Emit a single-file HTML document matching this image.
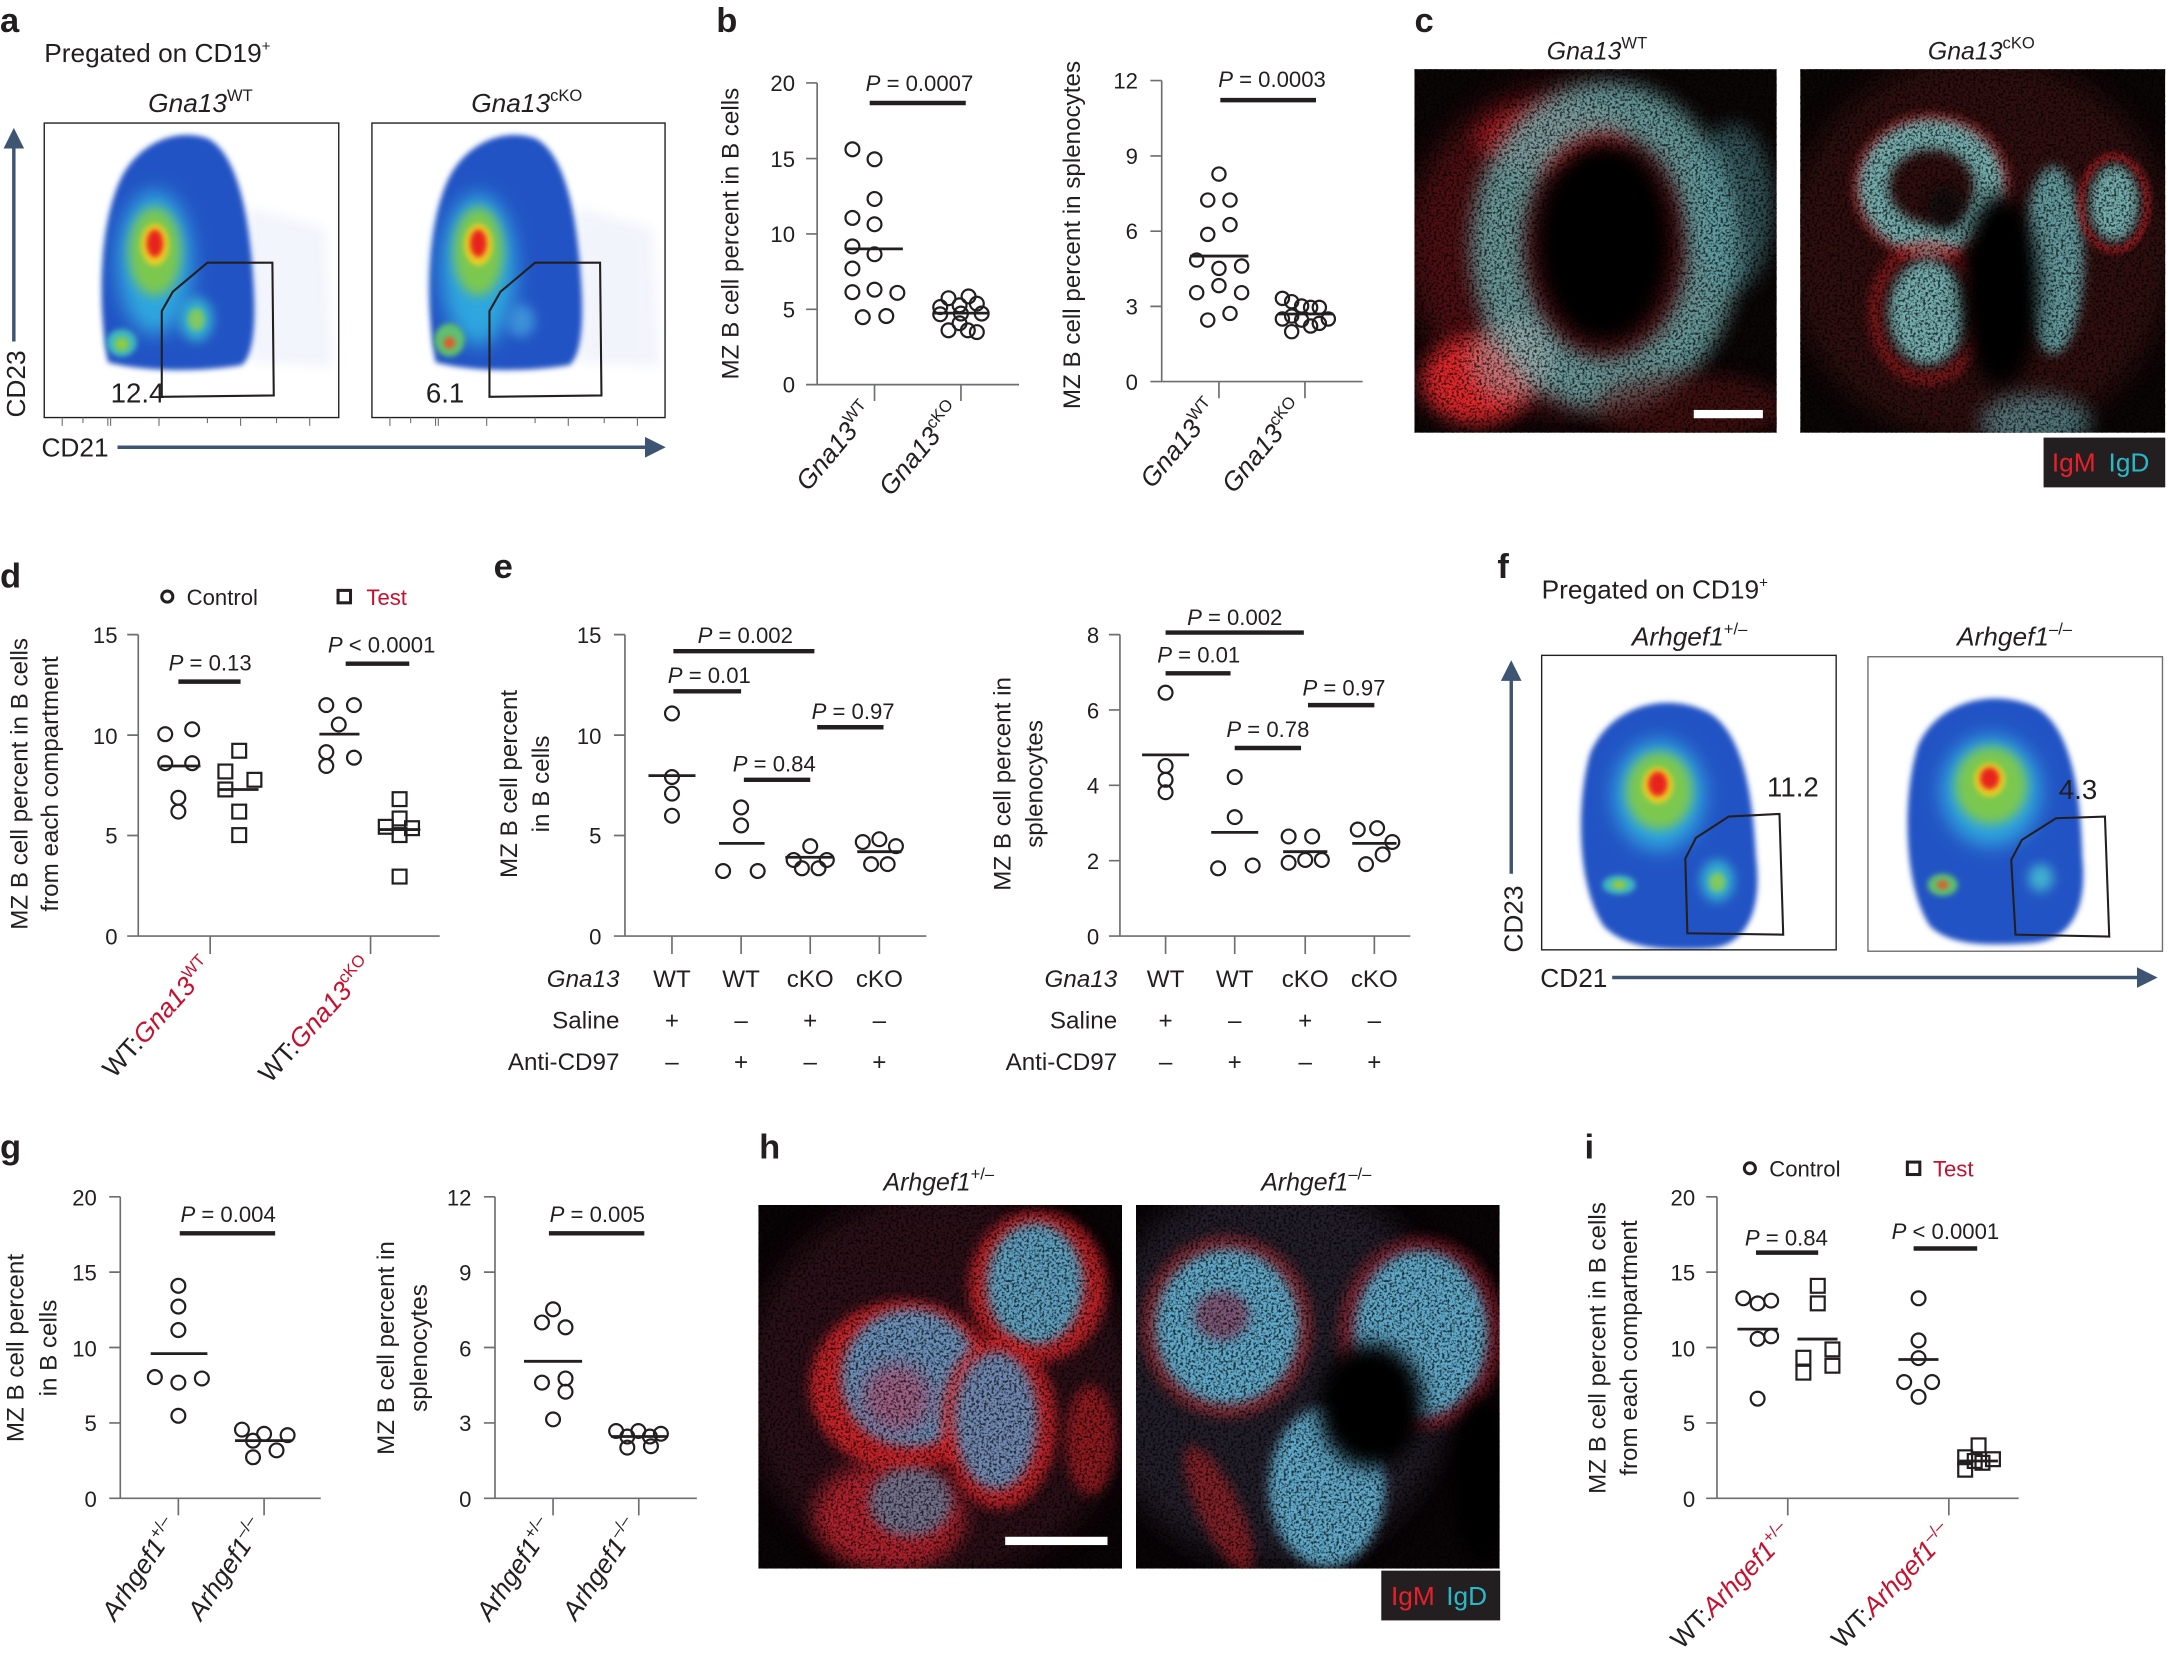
<!DOCTYPE html>
<html><head><meta charset="utf-8"><style>
html,body{margin:0;padding:0;background:#fff;}
svg{display:block;}
text{font-family:"Liberation Sans",Arial,sans-serif;fill:#231f20;}
.t{font-size:16px;}
.ax{font-size:17.5px;}
.lbl{font-size:25px;font-weight:bold;}
.it{font-style:italic;}
.red{fill:#c8102e;}
</style></head><body>
<svg width="2168" height="1663" viewBox="0 0 1568 1202.8" preserveAspectRatio="none" xmlns="http://www.w3.org/2000/svg">
<defs>
<filter id="b2" x="-50%" y="-50%" width="200%" height="200%"><feGaussianBlur stdDeviation="2"/></filter>
<filter id="b4" x="-50%" y="-50%" width="200%" height="200%"><feGaussianBlur stdDeviation="4"/></filter>
<filter id="b7" x="-50%" y="-50%" width="200%" height="200%"><feGaussianBlur stdDeviation="7"/></filter>
<filter id="b10" x="-50%" y="-50%" width="200%" height="200%"><feGaussianBlur stdDeviation="10"/></filter>
<filter id="tex" x="0" y="0" width="100%" height="100%"><feTurbulence type="fractalNoise" baseFrequency="0.55" numOctaves="2" seed="4"/><feColorMatrix type="matrix" values="0 0 0 0 0 0 0 0 0 0 0 0 0 0 0 0 0 0 -4 2.2"/></filter>
<marker id="ah" markerWidth="6" markerHeight="6" refX="3" refY="3" orient="auto" markerUnits="strokeWidth"><path d="M0,0 L6,3 L0,6 Z" fill="#3d5572"/></marker>
</defs>
<style>
.pt{fill:none;stroke:#231f20;stroke-width:1.6;}
.sq{fill:none;stroke:#231f20;stroke-width:1.6;}
.axl{stroke:#6d6e71;stroke-width:1.2;fill:none;}
.mn{stroke:#231f20;stroke-width:2;}
.br{stroke:#231f20;stroke-width:3.2;}
.gate{fill:none;stroke:#231f20;stroke-width:1.5;}
</style>

<!-- ===== Panel a ===== -->
<text class="lbl" x="0" y="23">a</text>
<text x="32" y="45" style="font-size:19px">Pregated on CD19<tspan dy="-8" style="font-size:11px">+</tspan></text>
<text class="it" x="145" y="81" text-anchor="middle" style="font-size:19px">Gna13<tspan dy="-8" style="font-size:12px;font-style:normal">WT</tspan></text>
<text class="it" x="381" y="81" text-anchor="middle" style="font-size:19px">Gna13<tspan dy="-8" style="font-size:12px;font-style:normal">cKO</tspan></text>
<svg x="32" y="89" width="213" height="213" viewBox="32 89 213 213">
<rect x="32" y="89" width="213" height="213" fill="#fff"/>
<path d="M180,150 L235,165 L240,265 L182,262Z" fill="#4a6ed0" opacity="0.07" filter="url(#b4)"/>
<path d="M78,262 C70,220 72,160 88,128 C100,105 125,92 150,100 C170,110 180,150 183,200 C186,240 182,258 175,264 C140,270 100,268 78,262Z" fill="#2352c4" filter="url(#b2)"/>
<ellipse cx="112" cy="190" rx="27" ry="52" fill="#2fa6de" filter="url(#b7)"/>
<ellipse cx="112" cy="182" rx="19" ry="32" fill="#7cc850" filter="url(#b4)"/>
<ellipse cx="112" cy="177" rx="10" ry="15" fill="#f0d020" filter="url(#b2)"/>
<ellipse cx="112" cy="176" rx="6" ry="10" fill="#e8231f" filter="url(#b2)"/>
<ellipse cx="142" cy="231" rx="12" ry="16" fill="#35b0d0" filter="url(#b4)"/>
<ellipse cx="142" cy="231" rx="6" ry="8" fill="#80c860" filter="url(#b2)"/>
<ellipse cx="88" cy="248" rx="11" ry="10" fill="#40b8c0" filter="url(#b2)"/>
<ellipse cx="88" cy="249" rx="5" ry="5" fill="#90cc40" filter="url(#b2)"/>
</svg>
<rect x="32" y="89" width="213" height="213" fill="none" stroke="#231f20" stroke-width="1"/>
<polygon class="gate" points="117,287 117,225 125,211 150,190 197,190 198,286"/>
<text x="80" y="291" style="font-size:20px">12.4</text>
<svg x="269" y="89" width="213" height="213" viewBox="32 89 213 213">
<rect x="32" y="89" width="213" height="213" fill="#fff"/>
<path d="M180,150 L235,165 L240,265 L182,262Z" fill="#4a6ed0" opacity="0.07" filter="url(#b4)"/>
<path d="M78,262 C70,220 72,160 88,128 C100,105 125,92 150,100 C170,110 180,150 183,200 C186,240 182,258 175,264 C140,270 100,268 78,262Z" fill="#2352c4" filter="url(#b2)"/>
<ellipse cx="109" cy="195" rx="27" ry="55" fill="#2fa6de" filter="url(#b7)"/>
<ellipse cx="109" cy="182" rx="18" ry="32" fill="#7cc850" filter="url(#b4)"/>
<ellipse cx="109" cy="177" rx="10" ry="15" fill="#f0d020" filter="url(#b2)"/>
<ellipse cx="109" cy="176" rx="6" ry="10" fill="#e8231f" filter="url(#b2)"/>
<ellipse cx="140" cy="232" rx="10" ry="12" fill="#3a90d8" filter="url(#b4)"/>
<ellipse cx="88" cy="246" rx="11" ry="12" fill="#60c070" filter="url(#b2)"/>
<ellipse cx="88" cy="248" rx="4" ry="4" fill="#f05020" filter="url(#b2)"/>
</svg>
<rect x="269" y="89" width="212" height="213" fill="none" stroke="#231f20" stroke-width="1"/>
<polygon class="gate" points="354,287 354,225 362,211 387,190 434,190 435,286"/>
<text x="308" y="291" style="font-size:20px">6.1</text>
<line x1="10" y1="247" x2="10" y2="100" stroke="#3d5572" stroke-width="2.5" marker-end="url(#ah)"/>
<text x="0" y="0" transform="translate(18,302) rotate(-90)" style="font-size:19px">CD23</text>
<text x="30" y="330" style="font-size:19px">CD21</text>
<line x1="85" y1="323.5" x2="474" y2="323.5" stroke="#3d5572" stroke-width="2.5" marker-end="url(#ah)"/>
<g stroke="#6d6e71" stroke-width="0.8">
<line x1="45" y1="302" x2="45" y2="308"/><line x1="60" y1="302" x2="60" y2="306"/><line x1="78" y1="302" x2="78" y2="308"/><line x1="80" y1="302" x2="80" y2="308"/><line x1="115" y1="302" x2="115" y2="308"/><line x1="150" y1="302" x2="150" y2="306"/><line x1="174" y1="302" x2="174" y2="308"/><line x1="200" y1="302" x2="200" y2="306"/><line x1="224" y1="302" x2="224" y2="308"/>
<line x1="282" y1="302" x2="282" y2="308"/><line x1="297" y1="302" x2="297" y2="306"/><line x1="315" y1="302" x2="315" y2="308"/><line x1="317" y1="302" x2="317" y2="308"/><line x1="352" y1="302" x2="352" y2="308"/><line x1="387" y1="302" x2="387" y2="306"/><line x1="411" y1="302" x2="411" y2="308"/><line x1="437" y1="302" x2="437" y2="306"/><line x1="461" y1="302" x2="461" y2="308"/>
</g>

<!-- ===== Panel b ===== -->
<text class="lbl" x="518" y="23">b</text>
<path class="axl" d="M591,60 V278.2 H737 M583,60 H591 M583,114.7 H591 M583,169.2 H591 M583,223.7 H591 M583,278.2 H591 M632.5,278 V290 M695,278 V290"/>
<g class="t" text-anchor="end"><text x="575" y="66">20</text><text x="575" y="120.7">15</text><text x="575" y="175">10</text><text x="575" y="229.5">5</text><text x="575" y="284">0</text></g>
<text class="ax" transform="translate(534,169) rotate(-90)" text-anchor="middle">MZ B cell percent in B cells</text>
<text class="t" x="665" y="66" text-anchor="middle"><tspan class="it">P</tspan> = 0.0007</text>
<line class="br" x1="629" y1="74.5" x2="698.5" y2="74.5"/>
<g class="pt">
<circle cx="616.5" cy="108" r="5"/><circle cx="632.5" cy="115.2" r="5"/><circle cx="632.5" cy="143.9" r="5"/><circle cx="616.5" cy="157.6" r="5"/><circle cx="632.5" cy="162.2" r="5"/><circle cx="616.5" cy="178.2" r="5"/><circle cx="632.5" cy="183.9" r="5"/><circle cx="616.5" cy="194.2" r="5"/><circle cx="616.5" cy="211.3" r="5"/><circle cx="632.5" cy="209.5" r="5"/><circle cx="649" cy="211.8" r="5"/><circle cx="624" cy="229.4" r="5"/><circle cx="641" cy="228.6" r="5"/>
<circle cx="686" cy="215.7" r="5"/><circle cx="700.5" cy="214.4" r="5"/><circle cx="680" cy="222.1" r="5"/><circle cx="694" cy="220.8" r="5"/><circle cx="706.5" cy="219.6" r="5"/><circle cx="710" cy="226.8" r="5"/><circle cx="680" cy="227.3" r="5"/><circle cx="695" cy="226.8" r="5"/><circle cx="686" cy="238.9" r="5"/><circle cx="700" cy="238.9" r="5"/><circle cx="706.5" cy="240.2" r="5"/><circle cx="694" cy="233.8" r="5"/>
</g>
<line class="mn" x1="611" y1="180" x2="653" y2="180"/><line class="mn" x1="675" y1="226.5" x2="715" y2="226.5"/>
<text class="it" transform="translate(633,298) rotate(-50)" text-anchor="end" style="font-size:19px">Gna13<tspan dy="-8" style="font-size:12px;font-style:normal">WT</tspan></text>
<text class="it" transform="translate(696,298) rotate(-50)" text-anchor="end" style="font-size:19px">Gna13<tspan dy="-8" style="font-size:12px;font-style:normal">cKO</tspan></text>

<path class="axl" d="M840.2,58.3 V276 H985.5 M832,58.3 H840.2 M832,112.8 H840.2 M832,167.2 H840.2 M832,221.6 H840.2 M832,276 H840.2 M881.6,276 V288 M943.8,276 V288"/>
<g class="t" text-anchor="end"><text x="823" y="64">12</text><text x="823" y="118.5">9</text><text x="823" y="173">6</text><text x="823" y="227.5">3</text><text x="823" y="282">0</text></g>
<text class="ax" transform="translate(781,170) rotate(-90)" text-anchor="middle">MZ B cell percent in splenocytes</text>
<text class="t" x="920" y="63" text-anchor="middle"><tspan class="it">P</tspan> = 0.0003</text>
<line class="br" x1="882.6" y1="72.4" x2="951.8" y2="72.4"/>
<g class="pt">
<circle cx="881.6" cy="125.9" r="4.8"/><circle cx="873.5" cy="144.7" r="4.8"/><circle cx="889.6" cy="144.7" r="4.8"/><circle cx="889.6" cy="162.5" r="4.8"/><circle cx="873.5" cy="169.5" r="4.8"/><circle cx="865.5" cy="188.1" r="4.8"/><circle cx="881.6" cy="194.1" r="4.8"/><circle cx="898" cy="192.4" r="4.8"/><circle cx="881.6" cy="206.6" r="4.8"/><circle cx="865.5" cy="211.7" r="4.8"/><circle cx="898" cy="211.7" r="4.8"/><circle cx="889.6" cy="226.7" r="4.8"/><circle cx="873.5" cy="231.5" r="4.8"/>
<circle cx="927.5" cy="215.8" r="4.8"/><circle cx="934.2" cy="218.2" r="4.8"/><circle cx="941.4" cy="221.3" r="4.8"/><circle cx="947.9" cy="222.3" r="4.8"/><circle cx="954.2" cy="222.3" r="4.8"/><circle cx="927.5" cy="230.7" r="4.8"/><circle cx="934.2" cy="228.6" r="4.8"/><circle cx="941.4" cy="231.5" r="4.8"/><circle cx="947.9" cy="235.8" r="4.8"/><circle cx="954.2" cy="233.9" r="4.8"/><circle cx="960.7" cy="230.7" r="4.8"/><circle cx="934.2" cy="239.9" r="4.8"/>
</g>
<line class="mn" x1="860.7" y1="185.2" x2="902.9" y2="185.2"/><line class="mn" x1="924.6" y1="227.1" x2="964.4" y2="227.1"/>
<text class="it" transform="translate(882,296) rotate(-50)" text-anchor="end" style="font-size:19px">Gna13<tspan dy="-8" style="font-size:12px;font-style:normal">WT</tspan></text>
<text class="it" transform="translate(944,296) rotate(-50)" text-anchor="end" style="font-size:19px">Gna13<tspan dy="-8" style="font-size:12px;font-style:normal">cKO</tspan></text>

<!-- ===== Panel c ===== -->
<text class="lbl" x="1023" y="23">c</text>
<text class="it" x="1155" y="43" text-anchor="middle" style="font-size:18px">Gna13<tspan dy="-8" style="font-size:12px;font-style:normal">WT</tspan></text>
<text class="it" x="1433" y="43" text-anchor="middle" style="font-size:18px">Gna13<tspan dy="-8" style="font-size:12px;font-style:normal">cKO</tspan></text>
<svg x="1023" y="50" width="262" height="263" viewBox="0 0 262 263">
<rect width="262" height="263" fill="#0c0606"/>
<ellipse cx="110" cy="130" rx="115" ry="120" fill="#7a181c" opacity="0.6" filter="url(#b10)"/>
<ellipse cx="45" cy="225" rx="40" ry="32" fill="#e0262a" filter="url(#b7)"/>
<ellipse cx="100" cy="50" rx="55" ry="25" fill="#d02228" opacity="0.7" filter="url(#b7)"/>
<ellipse cx="138" cy="128" rx="78" ry="100" fill="none" stroke="#6fb8b8" stroke-width="38" opacity="0.8" filter="url(#b7)"/>
<ellipse cx="70" cy="210" rx="30" ry="30" fill="#b0b8b8" opacity="0.5" filter="url(#b7)"/>
<ellipse cx="230" cy="100" rx="30" ry="60" fill="#5aa0a8" opacity="0.5" filter="url(#b7)"/>
<ellipse cx="137" cy="125" rx="48" ry="72" fill="#050303" filter="url(#b7)"/>
<ellipse cx="200" cy="245" rx="70" ry="25" fill="#601418" opacity="0.6" filter="url(#b7)"/>
<rect width="262" height="263" filter="url(#tex)" opacity="0.7"/>
<rect x="202" y="246.5" width="50" height="6" fill="#fff"/>
</svg>
<svg x="1302" y="50" width="264" height="263" viewBox="0 0 264 263">
<rect width="264" height="263" fill="#0c0606"/>
<ellipse cx="130" cy="130" rx="140" ry="140" fill="#4a1416" opacity="0.6" filter="url(#b10)"/>
<ellipse cx="95" cy="85" rx="52" ry="48" fill="none" stroke="#d02228" stroke-width="10" opacity="0.6" filter="url(#b4)"/>
<ellipse cx="95" cy="85" rx="42" ry="38" fill="none" stroke="#80c8c8" stroke-width="22" opacity="0.85" filter="url(#b4)"/>
<ellipse cx="92" cy="176" rx="38" ry="48" fill="none" stroke="#d02228" stroke-width="8" opacity="0.6" filter="url(#b4)"/>
<ellipse cx="92" cy="176" rx="28" ry="38" fill="#80c8c8" opacity="0.85" filter="url(#b4)"/>
<ellipse cx="183" cy="138" rx="22" ry="68" fill="#70bcc0" opacity="0.8" filter="url(#b4)"/>
<ellipse cx="227" cy="97" rx="18" ry="28" fill="#80c8c8" opacity="0.85" filter="url(#b4)"/>
<ellipse cx="227" cy="97" rx="24" ry="34" fill="none" stroke="#d02228" stroke-width="5" opacity="0.6" filter="url(#b2)"/>
<ellipse cx="145" cy="160" rx="28" ry="70" fill="#050303" filter="url(#b7)"/>
<ellipse cx="105" cy="100" rx="14" ry="16" fill="#150808" filter="url(#b4)"/>
<ellipse cx="170" cy="255" rx="40" ry="20" fill="#70b8c0" opacity="0.6" filter="url(#b7)"/>
<rect width="264" height="263" filter="url(#tex)" opacity="0.7"/>
</svg>
<rect x="1478" y="316.5" width="88" height="36" fill="#231f20"/>
<text x="1484" y="341" style="font-size:19px;fill:#e8202a">IgM</text><text x="1525" y="341" style="font-size:19px;fill:#2ab8c8">IgD</text>

<!-- ===== Panel d ===== -->
<text class="lbl" x="0" y="425">d</text>
<circle cx="121" cy="431.5" r="4" fill="none" stroke="#231f20" stroke-width="2.2"/>
<text class="t" x="135" y="437.5">Control</text>
<rect x="244.5" y="427" width="9" height="9" fill="none" stroke="#231f20" stroke-width="2.2"/>
<text class="t red" x="265" y="437.5">Test</text>
<path class="axl" d="M100,459 V677 H318 M92,459 H100 M92,531.7 H100 M92,604.3 H100 M92,677 H100 M152,677 V690 M268,677 V690"/>
<g class="t" text-anchor="end"><text x="85" y="465">15</text><text x="85" y="538">10</text><text x="85" y="610">5</text><text x="85" y="683">0</text></g>
<text class="ax" transform="translate(20,567) rotate(-90)" text-anchor="middle">MZ B cell percent in B cells</text>
<text class="ax" transform="translate(42,567) rotate(-90)" text-anchor="middle">from each compartment</text>
<text class="t" x="152" y="485" text-anchor="middle"><tspan class="it">P</tspan> = 0.13</text>
<line class="br" x1="129" y1="493" x2="174" y2="493"/>
<text class="t" x="276" y="472" text-anchor="middle"><tspan class="it">P</tspan> &lt; 0.0001</text>
<line class="br" x1="250" y1="480" x2="296" y2="480"/>
<g class="pt">
<circle cx="119.5" cy="531" r="5"/><circle cx="139" cy="527.5" r="5"/><circle cx="119.5" cy="552" r="5"/><circle cx="139" cy="552" r="5"/><circle cx="129" cy="577" r="5"/><circle cx="129" cy="587" r="5"/>
<circle cx="236" cy="510" r="5"/><circle cx="256" cy="510" r="5"/><circle cx="245" cy="524" r="5"/><circle cx="236" cy="544" r="5"/><circle cx="256" cy="548" r="5"/><circle cx="236" cy="554" r="5"/>
</g>
<g class="sq">
<rect x="168" y="538" width="10" height="10"/><rect x="158" y="553" width="10" height="10"/><rect x="179" y="559" width="10" height="10"/><rect x="158" y="566" width="10" height="10"/><rect x="168" y="582" width="10" height="10"/><rect x="168" y="599" width="10" height="10"/>
<rect x="284" y="573" width="10" height="10"/><rect x="284" y="587" width="10" height="10"/><rect x="274" y="593" width="10" height="10"/><rect x="293" y="594" width="10" height="10"/><rect x="284" y="599" width="10" height="10"/><rect x="284" y="629" width="10" height="10"/>
</g>
<line class="mn" x1="116" y1="554" x2="145" y2="554"/><line class="mn" x1="158" y1="571" x2="187" y2="571"/>
<line class="mn" x1="231" y1="531" x2="260" y2="531"/><line class="mn" x1="274" y1="600" x2="304" y2="600"/>
<text transform="translate(155,700) rotate(-48)" text-anchor="end" style="font-size:19px">WT:<tspan class="it red">Gna13</tspan><tspan class="red" dy="-8" style="font-size:12px">WT</tspan></text>
<text transform="translate(271,700) rotate(-48)" text-anchor="end" style="font-size:19px">WT:<tspan class="it red">Gna13</tspan><tspan class="red" dy="-8" style="font-size:12px">cKO</tspan></text>

<!-- ===== Panel e ===== -->
<text class="lbl" x="357" y="418">e</text>
<path class="axl" d="M452,459 V677 H670 M444,459 H452 M444,531.7 H452 M444,604.3 H452 M444,677 H452 M486,677 V690 M536,677 V690 M586,677 V690 M636,677 V690"/>
<g class="t" text-anchor="end"><text x="435" y="465">15</text><text x="435" y="538">10</text><text x="435" y="610">5</text><text x="435" y="683">0</text></g>
<text class="ax" transform="translate(374,567) rotate(-90)" text-anchor="middle">MZ B cell percent</text>
<text class="ax" transform="translate(397,567) rotate(-90)" text-anchor="middle">in B cells</text>
<text class="t" x="539" y="465" text-anchor="middle"><tspan class="it">P</tspan> = 0.002</text><line class="br" x1="487" y1="471" x2="589" y2="471"/>
<text class="t" x="513" y="494" text-anchor="middle"><tspan class="it">P</tspan> = 0.01</text><line class="br" x1="487" y1="500" x2="536" y2="500"/>
<text class="t" x="560" y="558" text-anchor="middle"><tspan class="it">P</tspan> = 0.84</text><line class="br" x1="538" y1="564" x2="586" y2="564"/>
<text class="t" x="617" y="520" text-anchor="middle"><tspan class="it">P</tspan> = 0.97</text><line class="br" x1="591" y1="526" x2="639" y2="526"/>
<g class="pt">
<circle cx="486" cy="516" r="5"/><circle cx="486" cy="562" r="5"/><circle cx="486" cy="574" r="5"/><circle cx="486" cy="590" r="5"/>
<circle cx="536" cy="584" r="5"/><circle cx="536" cy="597" r="5"/><circle cx="523" cy="630" r="5"/><circle cx="548" cy="630" r="5"/>
<circle cx="586" cy="612" r="5"/><circle cx="574" cy="622" r="5"/><circle cx="598" cy="622" r="5"/><circle cx="580" cy="628" r="5"/><circle cx="592" cy="628" r="5"/>
<circle cx="624" cy="609" r="5"/><circle cx="636" cy="607" r="5"/><circle cx="648" cy="612" r="5"/><circle cx="630" cy="625" r="5"/><circle cx="642" cy="625" r="5"/>
</g>
<line class="mn" x1="469" y1="561" x2="503" y2="561"/><line class="mn" x1="520" y1="610" x2="553" y2="610"/><line class="mn" x1="568" y1="620" x2="602" y2="620"/><line class="mn" x1="620" y1="616" x2="652" y2="616"/>
<g class="ax" text-anchor="end"><text class="it" x="448" y="714">Gna13</text><text x="448" y="744">Saline</text><text x="448" y="774">Anti-CD97</text></g>
<g class="ax" text-anchor="middle">
<text x="486" y="714">WT</text><text x="536" y="714">WT</text><text x="586" y="714">cKO</text><text x="636" y="714">cKO</text>
<text x="486" y="744">+</text><text x="536" y="744">–</text><text x="586" y="744">+</text><text x="636" y="744">–</text>
<text x="486" y="774">–</text><text x="536" y="774">+</text><text x="586" y="774">–</text><text x="636" y="774">+</text>
</g>
<path class="axl" d="M810,459 V677 H1020 M802,459 H810 M802,513.5 H810 M802,568 H810 M802,622.5 H810 M802,677 H810 M843,677 V690 M893,677 V690 M944,677 V690 M994,677 V690"/>
<g class="t" text-anchor="end"><text x="795" y="465">8</text><text x="795" y="519.5">6</text><text x="795" y="574">4</text><text x="795" y="628.5">2</text><text x="795" y="683">0</text></g>
<text class="ax" transform="translate(731,567) rotate(-90)" text-anchor="middle">MZ B cell percent in</text>
<text class="ax" transform="translate(754,567) rotate(-90)" text-anchor="middle">splenocytes</text>
<text class="t" x="893" y="452" text-anchor="middle"><tspan class="it">P</tspan> = 0.002</text><line class="br" x1="843" y1="457.5" x2="943" y2="457.5"/>
<text class="t" x="867" y="479" text-anchor="middle"><tspan class="it">P</tspan> = 0.01</text><line class="br" x1="843" y1="487" x2="890" y2="487"/>
<text class="t" x="917" y="533" text-anchor="middle"><tspan class="it">P</tspan> = 0.78</text><line class="br" x1="893" y1="541" x2="941" y2="541"/>
<text class="t" x="972" y="503" text-anchor="middle"><tspan class="it">P</tspan> = 0.97</text><line class="br" x1="946" y1="510" x2="994" y2="510"/>
<g class="pt">
<circle cx="843" cy="501" r="5"/><circle cx="843" cy="554" r="5"/><circle cx="843" cy="564" r="5"/><circle cx="843" cy="573" r="5"/>
<circle cx="893" cy="562" r="5"/><circle cx="893" cy="591" r="5"/><circle cx="881" cy="628" r="5"/><circle cx="906" cy="626" r="5"/>
<circle cx="932" cy="605" r="5"/><circle cx="949" cy="605" r="5"/><circle cx="932" cy="624" r="5"/><circle cx="944" cy="622" r="5"/><circle cx="956" cy="622" r="5"/>
<circle cx="982" cy="600" r="5"/><circle cx="996" cy="599" r="5"/><circle cx="1007" cy="609" r="5"/><circle cx="1000" cy="618" r="5"/><circle cx="988" cy="625" r="5"/>
</g>
<line class="mn" x1="826" y1="546" x2="860" y2="546"/><line class="mn" x1="876" y1="602" x2="910" y2="602"/><line class="mn" x1="928" y1="616" x2="960" y2="616"/><line class="mn" x1="978" y1="610" x2="1010" y2="610"/>
<g class="ax" text-anchor="end"><text class="it" x="808" y="714">Gna13</text><text x="808" y="744">Saline</text><text x="808" y="774">Anti-CD97</text></g>
<g class="ax" text-anchor="middle">
<text x="843" y="714">WT</text><text x="893" y="714">WT</text><text x="944" y="714">cKO</text><text x="994" y="714">cKO</text>
<text x="843" y="744">+</text><text x="893" y="744">–</text><text x="944" y="744">+</text><text x="994" y="744">–</text>
<text x="843" y="774">–</text><text x="893" y="774">+</text><text x="944" y="774">–</text><text x="994" y="774">+</text>
</g>

<!-- ===== Panel f ===== -->
<text class="lbl" x="1083" y="418">f</text>
<text x="1115" y="433" style="font-size:19px">Pregated on CD19<tspan dy="-8" style="font-size:11px">+</tspan></text>
<text class="it" x="1222" y="467" text-anchor="middle" style="font-size:19px">Arhgef1<tspan dy="-8" style="font-size:12px;font-style:normal">+/–</tspan></text>
<text class="it" x="1457" y="467" text-anchor="middle" style="font-size:19px">Arhgef1<tspan dy="-8" style="font-size:12px;font-style:normal">–/–</tspan></text>
<svg x="1115" y="474" width="213" height="213" viewBox="1115 474 213 213">
<rect x="1115" y="474" width="213" height="213" fill="#fff"/>
<path d="M1160,670 C1140,640 1140,580 1150,545 C1165,510 1205,500 1235,515 C1262,530 1268,580 1270,620 C1275,660 1262,685 1235,686 C1200,688 1175,685 1160,670Z" fill="#2352c4" filter="url(#b2)"/>
<ellipse cx="1200" cy="575" rx="33" ry="40" fill="#2fa6de" filter="url(#b7)"/>
<ellipse cx="1200" cy="572" rx="24" ry="28" fill="#7cc850" filter="url(#b4)"/>
<ellipse cx="1199" cy="568" rx="11" ry="13" fill="#f0d020" filter="url(#b2)"/>
<ellipse cx="1199" cy="567" rx="7" ry="9" fill="#e8231f" filter="url(#b2)"/>
<ellipse cx="1171" cy="640" rx="12" ry="7" fill="#40b8c0" filter="url(#b2)"/>
<ellipse cx="1171" cy="640" rx="5" ry="3" fill="#a0cc30" filter="url(#b2)"/>
<ellipse cx="1242" cy="637" rx="12" ry="15" fill="#35b0d0" filter="url(#b4)"/>
<ellipse cx="1242" cy="638" rx="6" ry="7" fill="#80c860" filter="url(#b2)"/>
</svg>
<rect x="1115" y="474" width="213" height="213" fill="none" stroke="#231f20" stroke-width="1"/>
<polygon class="gate" points="1220.4,675 1218.9,621 1226.6,606 1250.3,590.6 1287,588.7 1289.7,676"/>
<text x="1278" y="576" style="font-size:20px">11.2</text>
<svg x="1351" y="475" width="213" height="213" viewBox="1351 475 213 213">
<rect x="1351" y="475" width="213" height="213" fill="#fff"/>
<path d="M1396,670 C1376,640 1376,575 1387,540 C1402,505 1445,498 1473,512 C1500,528 1505,580 1506,620 C1510,660 1496,680 1470,682 C1436,684 1411,684 1396,670Z" fill="#2352c4" filter="url(#b2)"/>
<ellipse cx="1440" cy="572" rx="36" ry="40" fill="#2fa6de" filter="url(#b7)"/>
<ellipse cx="1440" cy="568" rx="26" ry="28" fill="#7cc850" filter="url(#b4)"/>
<ellipse cx="1439" cy="564" rx="11" ry="12" fill="#f0d020" filter="url(#b2)"/>
<ellipse cx="1439" cy="563" rx="7" ry="8" fill="#e8231f" filter="url(#b2)"/>
<ellipse cx="1405" cy="640" rx="11" ry="8" fill="#60c070" filter="url(#b2)"/>
<ellipse cx="1405" cy="640" rx="4" ry="3" fill="#f05020" filter="url(#b2)"/>
<ellipse cx="1476" cy="635" rx="9" ry="10" fill="#40b0d0" filter="url(#b4)"/>
</svg>
<rect x="1351" y="475" width="213" height="213" fill="none" stroke="#6d6e71" stroke-width="1"/>
<polygon class="gate" points="1457.7,676 1454.6,622 1462.3,607.5 1487,591.8 1522.4,590.6 1525.5,677.4"/>
<text x="1489" y="578" style="font-size:20px">4.3</text>
<line x1="1093" y1="632" x2="1093" y2="485" stroke="#3d5572" stroke-width="2.5" marker-end="url(#ah)"/>
<text transform="translate(1101,689) rotate(-90)" style="font-size:19px">CD23</text>
<text x="1114" y="714" style="font-size:19px">CD21</text>
<line x1="1166" y1="707" x2="1553" y2="707" stroke="#3d5572" stroke-width="2.5" marker-end="url(#ah)"/>

<!-- ===== Panel g ===== -->
<text class="lbl" x="0" y="838">g</text>
<path class="axl" d="M87,865.6 V1083.7 H232 M79,865.6 H87 M79,920.1 H87 M79,974.6 H87 M79,1029.2 H87 M79,1083.7 H87 M129,1083.7 V1096 M191,1083.7 V1096"/>
<g class="t" text-anchor="end"><text x="70" y="872">20</text><text x="70" y="926">15</text><text x="70" y="981">10</text><text x="70" y="1035">5</text><text x="70" y="1090">0</text></g>
<text class="ax" transform="translate(17,975) rotate(-90)" text-anchor="middle">MZ B cell percent</text>
<text class="ax" transform="translate(41,975) rotate(-90)" text-anchor="middle">in B cells</text>
<text class="t" x="165" y="884" text-anchor="middle"><tspan class="it">P</tspan> = 0.004</text><line class="br" x1="130" y1="892" x2="199" y2="892"/>
<g class="pt">
<circle cx="129" cy="930" r="5"/><circle cx="129" cy="945" r="5"/><circle cx="129" cy="962" r="5"/><circle cx="112" cy="996" r="5"/><circle cx="129" cy="1000" r="5"/><circle cx="146" cy="997" r="5"/><circle cx="129" cy="1024" r="5"/>
<circle cx="175" cy="1034" r="5"/><circle cx="191" cy="1037" r="5"/><circle cx="208" cy="1038" r="5"/><circle cx="183" cy="1042" r="5"/><circle cx="200" cy="1049" r="5"/><circle cx="183" cy="1054" r="5"/>
</g>
<line class="mn" x1="109" y1="979" x2="150" y2="979"/><line class="mn" x1="170" y1="1042" x2="211" y2="1042"/>
<text class="it" transform="translate(130,1104) rotate(-56)" text-anchor="end" style="font-size:19px">Arhgef1<tspan dy="-8" style="font-size:12px;font-style:normal">+/–</tspan></text>
<text class="it" transform="translate(192,1104) rotate(-56)" text-anchor="end" style="font-size:19px">Arhgef1<tspan dy="-8" style="font-size:12px;font-style:normal">–/–</tspan></text>

<path class="axl" d="M358,865.6 V1083.7 H504 M350,865.6 H358 M350,920.1 H358 M350,974.6 H358 M350,1029.2 H358 M350,1083.7 H358 M400,1083.7 V1096 M462,1083.7 V1096"/>
<g class="t" text-anchor="end"><text x="341" y="872">12</text><text x="341" y="926">9</text><text x="341" y="981">6</text><text x="341" y="1035">3</text><text x="341" y="1090">0</text></g>
<text class="ax" transform="translate(285,975) rotate(-90)" text-anchor="middle">MZ B cell percent in</text>
<text class="ax" transform="translate(309,975) rotate(-90)" text-anchor="middle">splenocytes</text>
<text class="t" x="432" y="884" text-anchor="middle"><tspan class="it">P</tspan> = 0.005</text><line class="br" x1="397" y1="892" x2="466" y2="892"/>
<g class="pt">
<circle cx="392" cy="956.5" r="5"/><circle cx="400" cy="947" r="5"/><circle cx="409" cy="960" r="5"/><circle cx="392" cy="1000" r="5"/><circle cx="409" cy="997" r="5"/><circle cx="409" cy="1006.6" r="5"/><circle cx="400" cy="1026.6" r="5"/>
<circle cx="445.6" cy="1035" r="5"/><circle cx="461.7" cy="1035" r="5"/><circle cx="478" cy="1037" r="5"/><circle cx="453.7" cy="1039" r="5"/><circle cx="470" cy="1039" r="5"/><circle cx="453.7" cy="1047" r="5"/><circle cx="470.8" cy="1046" r="5"/>
</g>
<line class="mn" x1="379" y1="984.6" x2="421" y2="984.6"/><line class="mn" x1="442" y1="1039" x2="483" y2="1039"/>
<text class="it" transform="translate(401,1104) rotate(-56)" text-anchor="end" style="font-size:19px">Arhgef1<tspan dy="-8" style="font-size:12px;font-style:normal">+/–</tspan></text>
<text class="it" transform="translate(463,1104) rotate(-56)" text-anchor="end" style="font-size:19px">Arhgef1<tspan dy="-8" style="font-size:12px;font-style:normal">–/–</tspan></text>

<!-- ===== Panel h ===== -->
<text class="lbl" x="549" y="838">h</text>
<text class="it" x="679" y="861" text-anchor="middle" style="font-size:18px">Arhgef1<tspan dy="-8" style="font-size:12px;font-style:normal">+/–</tspan></text>
<text class="it" x="952" y="861" text-anchor="middle" style="font-size:18px">Arhgef1<tspan dy="-8" style="font-size:12px;font-style:normal">–/–</tspan></text>
<svg x="548.5" y="871.5" width="263" height="263" viewBox="0 0 263 263">
<rect width="263" height="263" fill="#0a0406"/>
<ellipse cx="130" cy="130" rx="140" ry="140" fill="#3a1420" opacity="0.7" filter="url(#b10)"/>
<ellipse cx="105" cy="131" rx="68" ry="62" fill="#e0262a" opacity="0.85" filter="url(#b4)"/>
<ellipse cx="110" cy="125" rx="50" ry="50" fill="#6a90b8" filter="url(#b4)"/>
<ellipse cx="100" cy="140" rx="25" ry="25" fill="#c04060" opacity="0.6" filter="url(#b7)"/>
<ellipse cx="202" cy="59" rx="50" ry="55" fill="#e0262a" opacity="0.8" filter="url(#b4)"/>
<ellipse cx="200" cy="57" rx="35" ry="44" fill="#5ea0c0" filter="url(#b4)"/>
<ellipse cx="174" cy="158" rx="42" ry="62" fill="#e0262a" opacity="0.8" filter="url(#b4)"/>
<ellipse cx="172" cy="156" rx="30" ry="50" fill="#7088b0" filter="url(#b4)"/>
<ellipse cx="95" cy="225" rx="55" ry="40" fill="#d02630" opacity="0.8" filter="url(#b7)"/>
<ellipse cx="110" cy="215" rx="30" ry="25" fill="#5a90b0" opacity="0.7" filter="url(#b4)"/>
<ellipse cx="240" cy="170" rx="18" ry="40" fill="#d02228" opacity="0.6" filter="url(#b4)"/>
<rect width="263" height="263" filter="url(#tex)" opacity="0.7"/>
<rect x="178.5" y="240" width="74" height="6" fill="#fff"/>
</svg>
<svg x="821.6" y="871.5" width="263" height="263" viewBox="0 0 263 263">
<rect width="263" height="263" fill="#0a0406"/>
<ellipse cx="100" cy="120" rx="130" ry="140" fill="#25202e" opacity="0.9" filter="url(#b10)"/>
<ellipse cx="66" cy="88" rx="62" ry="66" fill="#c0303a" opacity="0.6" filter="url(#b4)"/>
<ellipse cx="66" cy="88" rx="52" ry="56" fill="#5ea8c8" filter="url(#b4)"/>
<ellipse cx="62" cy="80" rx="20" ry="18" fill="#902040" opacity="0.6" filter="url(#b4)"/>
<ellipse cx="206" cy="93" rx="60" ry="70" fill="#b02838" opacity="0.6" filter="url(#b4)"/>
<ellipse cx="206" cy="93" rx="48" ry="60" fill="#5ea8c8" filter="url(#b4)"/>
<ellipse cx="138" cy="204" rx="42" ry="58" fill="#5ea8c8" filter="url(#b4)"/>
<ellipse cx="170" cy="145" rx="38" ry="45" fill="#040204" filter="url(#b7)"/>
<ellipse cx="60" cy="220" rx="15" ry="50" fill="#c02028" opacity="0.6" filter="url(#b4)" transform="rotate(-25 60 220)"/>
<ellipse cx="250" cy="200" rx="20" ry="60" fill="#040204" filter="url(#b7)"/>
<rect width="263" height="263" filter="url(#tex)" opacity="0.7"/>
</svg>
<rect x="999" y="1136" width="86" height="36" fill="#231f20"/>
<text x="1006" y="1161" style="font-size:19px;fill:#e8202a">IgM</text><text x="1046" y="1161" style="font-size:19px;fill:#2ab8c8">IgD</text>

<!-- ===== Panel i ===== -->
<text class="lbl" x="1146" y="838">i</text>
<circle cx="1265.6" cy="845" r="4" fill="none" stroke="#231f20" stroke-width="2.2"/>
<text class="t" x="1279.6" y="851">Control</text>
<rect x="1379.5" y="840.5" width="9" height="9" fill="none" stroke="#231f20" stroke-width="2.2"/>
<text class="t red" x="1398" y="851">Test</text>
<path class="axl" d="M1241.8,865.6 V1083.7 H1460 M1234,865.6 H1241.8 M1234,920.1 H1241.8 M1234,974.6 H1241.8 M1234,1029.2 H1241.8 M1234,1083.7 H1241.8 M1293,1083.7 V1096 M1409.5,1083.7 V1096"/>
<g class="t" text-anchor="end"><text x="1226" y="872">20</text><text x="1226" y="926">15</text><text x="1226" y="981">10</text><text x="1226" y="1035">5</text><text x="1226" y="1090">0</text></g>
<text class="ax" transform="translate(1161,975) rotate(-90)" text-anchor="middle">MZ B cell percent in B cells</text>
<text class="ax" transform="translate(1184,975) rotate(-90)" text-anchor="middle">from each compartment</text>
<text class="t" x="1292" y="901" text-anchor="middle"><tspan class="it">P</tspan> = 0.84</text><line class="br" x1="1270" y1="906" x2="1315" y2="906"/>
<text class="t" x="1407" y="896" text-anchor="middle"><tspan class="it">P</tspan> &lt; 0.0001</text><line class="br" x1="1384" y1="903" x2="1430" y2="903"/>
<g class="pt">
<circle cx="1260.8" cy="939" r="5"/><circle cx="1271.2" cy="942.7" r="5"/><circle cx="1281" cy="940.7" r="5"/><circle cx="1271.2" cy="968.3" r="5"/><circle cx="1281" cy="966.5" r="5"/><circle cx="1271.2" cy="1011.6" r="5"/>
<circle cx="1387.6" cy="939" r="5"/><circle cx="1387.6" cy="969.5" r="5"/><circle cx="1387.6" cy="982.3" r="5"/><circle cx="1377.2" cy="999.6" r="5"/><circle cx="1397.4" cy="999.6" r="5"/><circle cx="1387.6" cy="1010.3" r="5"/>
</g>
<g class="sq">
<rect x="1309.7" y="925" width="10" height="10"/><rect x="1309.7" y="937.7" width="10" height="10"/><rect x="1320.3" y="971" width="10" height="10"/><rect x="1299.3" y="977" width="10" height="10"/><rect x="1320.3" y="982.8" width="10" height="10"/><rect x="1299.3" y="987.8" width="10" height="10"/>
<rect x="1426" y="1040.4" width="10" height="10"/><rect x="1416.3" y="1049" width="10" height="10"/><rect x="1436.4" y="1050.4" width="10" height="10"/><rect x="1428.8" y="1053" width="10" height="10"/><rect x="1416.3" y="1058" width="10" height="10"/><rect x="1423.2" y="1051.7" width="10" height="10"/>
</g>
<line class="mn" x1="1256.6" y1="961.3" x2="1285.8" y2="961.3"/><line class="mn" x1="1300" y1="968.5" x2="1329" y2="968.5"/>
<line class="mn" x1="1373" y1="983.3" x2="1402" y2="983.3"/><line class="mn" x1="1417" y1="1056.7" x2="1445" y2="1056.7"/>
<text transform="translate(1297,1110) rotate(-46)" text-anchor="end" style="font-size:19px">WT:<tspan class="it red">Arhgef1</tspan><tspan class="red" dy="-8" style="font-size:12px">+/–</tspan></text>
<text transform="translate(1413,1110) rotate(-46)" text-anchor="end" style="font-size:19px">WT:<tspan class="it red">Arhgef1</tspan><tspan class="red" dy="-8" style="font-size:12px">–/–</tspan></text>
</svg>
</body></html>
